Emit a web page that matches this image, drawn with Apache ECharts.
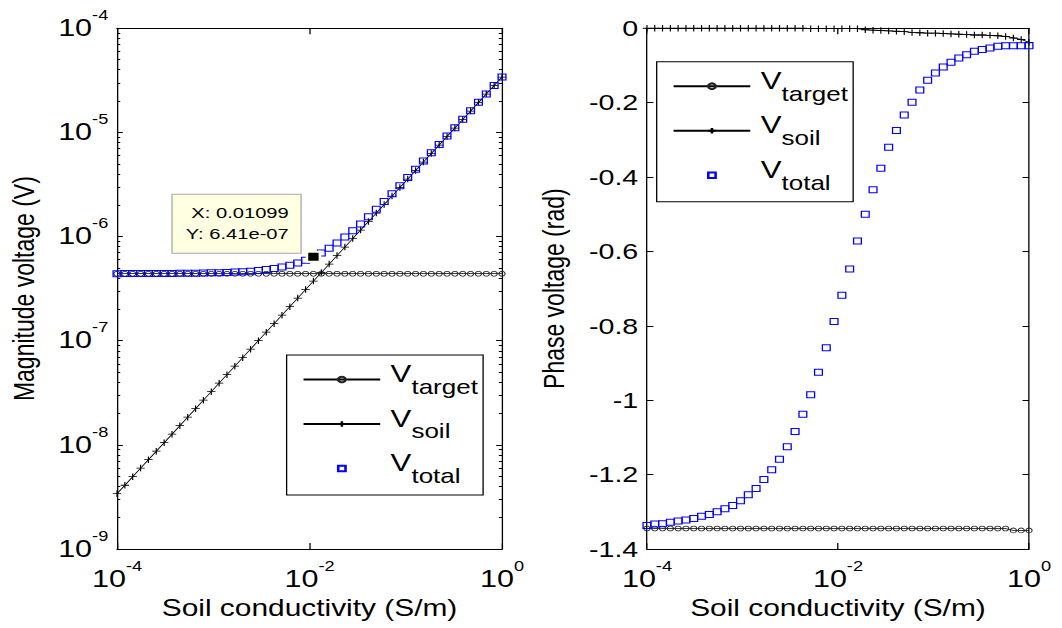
<!DOCTYPE html>
<html>
<head>
<meta charset="utf-8">
<script src="https://cdn.jsdelivr.net/npm/echarts@6/dist/echarts.min.js"></script>
<style>
  html, body { margin: 0; padding: 0; background: #fff; overflow: hidden; }
  #stage { width: 1062px; height: 628px; overflow: hidden; position: relative; }
  /* the figure is laid out on a narrower canvas and widened horizontally */
  #chart { width: 817px; height: 628px; transform: scaleX(1.29988); transform-origin: 0 0; }
</style>
</head>
<body>
<div id="stage"><div id="chart"></div></div>
<script>
// Soil conductivity sweep (S/m), 50 log-spaced samples
const sigma = [1.000e-4, 1.207e-4, 1.456e-4, 1.758e-4, 2.121e-4, 2.560e-4, 3.089e-4, 3.728e-4, 4.498e-4, 5.429e-4,
  6.551e-4, 7.906e-4, 9.541e-4, 1.151e-3, 1.389e-3, 1.677e-3, 2.024e-3, 2.442e-3, 2.947e-3, 3.556e-3,
  4.292e-3, 5.179e-3, 6.251e-3, 7.543e-3, 9.103e-3, 1.09854e-2, 1.326e-2, 1.600e-2, 1.931e-2, 2.330e-2,
  2.812e-2, 3.393e-2, 4.095e-2, 4.942e-2, 5.964e-2, 7.197e-2, 8.685e-2, 0.1048, 0.1265, 0.1526,
  0.1842, 0.2223, 0.2683, 0.3237, 0.3907, 0.4715, 0.5690, 0.6866, 0.8286, 1.0];

// Magnitude (V)
const magTarget = [4.4e-7, 4.4e-7, 4.4e-7, 4.4e-7, 4.4e-7, 4.4e-7, 4.4e-7, 4.4e-7, 4.4e-7, 4.4e-7,
  4.4e-7, 4.4e-7, 4.4e-7, 4.4e-7, 4.4e-7, 4.4e-7, 4.4e-7, 4.4e-7, 4.4e-7, 4.4e-7,
  4.4e-7, 4.4e-7, 4.4e-7, 4.4e-7, 4.4e-7, 4.4e-7, 4.4e-7, 4.4e-7, 4.4e-7, 4.4e-7,
  4.4e-7, 4.4e-7, 4.4e-7, 4.4e-7, 4.4e-7, 4.4e-7, 4.4e-7, 4.4e-7, 4.4e-7, 4.4e-7,
  4.4e-7, 4.4e-7, 4.4e-7, 4.4e-7, 4.4e-7, 4.4e-7, 4.4e-7, 4.4e-7, 4.4e-7, 4.4e-7];
const magSoil = [3.40e-9, 4.10e-9, 4.95e-9, 5.98e-9, 7.21e-9, 8.70e-9, 1.050e-8, 1.267e-8, 1.529e-8, 1.846e-8,
  2.227e-8, 2.688e-8, 3.244e-8, 3.915e-8, 4.724e-8, 5.701e-8, 6.880e-8, 8.303e-8, 1.002e-7, 1.209e-7,
  1.459e-7, 1.761e-7, 2.125e-7, 2.565e-7, 3.095e-7, 3.735e-7, 4.507e-7, 5.440e-7, 6.564e-7, 7.922e-7,
  9.560e-7, 1.154e-6, 1.392e-6, 1.680e-6, 2.028e-6, 2.447e-6, 2.953e-6, 3.563e-6, 4.301e-6, 5.188e-6,
  6.263e-6, 7.558e-6, 9.122e-6, 1.101e-5, 1.328e-5, 1.603e-5, 1.935e-5, 2.334e-5, 2.817e-5, 3.400e-5];
const magTotal = [4.408e-7, 4.409e-7, 4.411e-7, 4.414e-7, 4.417e-7, 4.420e-7, 4.425e-7, 4.430e-7, 4.437e-7, 4.445e-7,
  4.455e-7, 4.468e-7, 4.484e-7, 4.504e-7, 4.529e-7, 4.562e-7, 4.603e-7, 4.657e-7, 4.726e-7, 4.817e-7,
  4.936e-7, 5.092e-7, 5.298e-7, 5.567e-7, 5.919e-7, 6.41e-7, 6.968e-7, 7.725e-7, 8.682e-7, 9.886e-7,
  1.138e-6, 1.324e-6, 1.551e-6, 1.830e-6, 2.169e-6, 2.581e-6, 3.082e-6, 3.687e-6, 4.420e-6, 5.304e-6,
  6.376e-6, 7.669e-6, 9.231e-6, 1.112e-5, 1.339e-5, 1.613e-5, 1.945e-5, 2.344e-5, 2.827e-5, 3.410e-5];

// Phase (rad)
const phaseTarget = [-1.345, -1.345, -1.345, -1.345, -1.345, -1.345, -1.345, -1.345, -1.345, -1.345,
  -1.345, -1.345, -1.345, -1.345, -1.345, -1.345, -1.345, -1.345, -1.345, -1.345,
  -1.345, -1.345, -1.345, -1.345, -1.345, -1.345, -1.345, -1.345, -1.345, -1.345,
  -1.345, -1.345, -1.345, -1.345, -1.345, -1.345, -1.345, -1.345, -1.345, -1.345,
  -1.345, -1.345, -1.345, -1.345, -1.345, -1.345, -1.345, -1.350, -1.350, -1.350];
const phaseSoil = [0, 0, 0, 0, 0, 0, 0, 0, 0, 0,
  0, 0, 0, 0, 0, 0, 0, 0, 0, 0,
  0, -0.001, -0.001, -0.001, -0.001, -0.001, -0.001, -0.001, -0.004, -0.005,
  -0.006, -0.007, -0.008, -0.009, -0.011, -0.012, -0.013, -0.013, -0.014, -0.015,
  -0.016, -0.017, -0.018, -0.018, -0.019, -0.020, -0.022, -0.026, -0.030, -0.038];
const phaseTotal = [-1.337, -1.333, -1.332, -1.328, -1.325, -1.322, -1.318, -1.312, -1.307, -1.300,
  -1.292, -1.283, -1.270, -1.254, -1.237, -1.213, -1.187, -1.159, -1.125, -1.084,
  -1.038, -0.985, -0.925, -0.859, -0.788, -0.718, -0.647, -0.572, -0.500, -0.434,
  -0.376, -0.320, -0.275, -0.233, -0.199, -0.166, -0.140, -0.120, -0.104, -0.091,
  -0.080, -0.071, -0.062, -0.057, -0.053, -0.048, -0.047, -0.047, -0.047, -0.047];

const seriesNames = ['target', 'soil', 'total'];
const xTicks = [1e-4, 1e-2, 1];
const magTicks = [1e-9, 1e-8, 1e-7, 1e-6, 1e-5, 1e-4];
const phaseTicks = [0, -0.2, -0.4, -0.6, -0.8, -1, -1.2, -1.4];
const tipIndex = 25;

const FONT = "'Liberation Sans', Arial, Helvetica, sans-serif";

const pairs = (xs, ys) => xs.map((x, i) => [x, ys[i]]);

// "10" with a raised exponent; extra bottom padding recentres the "10" on the tick
function powLabel(padBottom) {
  return {
    formatter: v => '{b|10}{e|' + Math.round(Math.log10(v)) + '}',
    padding: [0, 0, padBottom, 0],
    rich: {
      b: { fontSize: 23.5, lineHeight: 32, verticalAlign: 'bottom', fontFamily: FONT, color: '#000' },
      e: { fontSize: 14, lineHeight: 14, verticalAlign: 'top', fontFamily: FONT, color: '#000' }
    }
  };
}

const blackLine = { show: true, onZero: false, lineStyle: { color: '#000', width: 1 } };
const nameStyle = { fontSize: 23, color: '#000', fontFamily: FONT };

function xAxisFor(grid, pos, withLabels) {
  return {
    type: 'log', logBase: 10, gridIndex: grid, position: pos,
    min: xTicks[0], max: xTicks[xTicks.length - 1],
    axisLine: blackLine,
    axisTick: { show: true, inside: true, length: 6, customValues: xTicks, lineStyle: { color: '#000', width: 1 } },
    axisLabel: withLabels ? Object.assign({ show: true, margin: 10.3, customValues: xTicks }, powLabel(0)) : { show: false },
    splitLine: { show: false },
    minorTick: { show: false },
    name: withLabels ? 'Soil conductivity (S/m)' : '',
    nameLocation: 'middle', nameGap: 48, nameTextStyle: nameStyle
  };
}

function magYAxis(pos, withLabels) {
  return {
    type: 'log', logBase: 10, gridIndex: 0, position: pos,
    min: magTicks[0], max: magTicks[magTicks.length - 1],
    axisLine: blackLine,
    axisTick: { show: true, inside: true, length: 4.5, customValues: magTicks, lineStyle: { color: '#000', width: 1 } },
    minorTick: { show: true, splitNumber: 9, length: 2.5, lineStyle: { color: '#000', width: 1 } },
    axisLabel: withLabels ? Object.assign({ show: true, margin: 6.7, customValues: magTicks }, powLabel(9)) : { show: false },
    splitLine: { show: false }, minorSplitLine: { show: false },
    name: withLabels ? 'Magnitude voltage (V)' : '',
    nameLocation: 'middle', nameGap: 60,
    nameTextStyle: { fontSize: 23, color: '#000', fontFamily: FONT }
  };
}

function phaseYAxis(pos, withLabels) {
  return {
    type: 'value', gridIndex: 1, position: pos,
    min: phaseTicks[phaseTicks.length - 1], max: phaseTicks[0], interval: 0.2,
    axisLine: blackLine,
    axisTick: { show: true, inside: true, length: 5, lineStyle: { color: '#000', width: 1 } },
    axisLabel: withLabels ? { show: true, margin: 6.7, fontSize: 22, color: '#000', fontFamily: FONT } : { show: false },
    splitLine: { show: false },
    name: withLabels ? 'Phase voltage (rad)' : '',
    nameLocation: 'middle', nameGap: 60,
    nameTextStyle: { fontSize: 23, color: '#000', fontFamily: FONT }
  };
}

const clearFill = 'rgba(0,0,0,0)';
const plusPath = 'path://M0,5L10,5M5,0L5,10';

function trio(xi, yi, yTarget, ySoil, yTotal, extraTotal) {
  const common = { type: 'line', xAxisIndex: xi, yAxisIndex: yi, clip: false, showAllSymbol: true,
    silent: true, animation: false, emphasis: { disabled: true } };
  return [
    Object.assign({}, common, {
      name: seriesNames[0], data: pairs(sigma, yTarget),
      symbol: 'circle', symbolSize: 4.8,
      itemStyle: { color: clearFill, borderColor: '#222', borderWidth: 0.8 },
      lineStyle: { color: '#000', width: 0.8 }
    }),
    Object.assign({}, common, {
      name: seriesNames[1], data: pairs(sigma, ySoil),
      symbol: plusPath, symbolSize: 6.5,
      itemStyle: { color: clearFill, borderColor: '#000', borderWidth: 0.9 },
      lineStyle: { color: '#000', width: 0.8 }
    }),
    Object.assign({}, common, {
      name: seriesNames[2], data: pairs(sigma, yTotal),
      symbol: 'rect', symbolSize: 6,
      itemStyle: { color: clearFill, borderColor: '#0000ff', borderWidth: 1 },
      lineStyle: { color: clearFill, width: 0 }
    }, extraTotal || {})
  ];
}

function fmtSci(v) {
  const parts = v.toExponential(2).split('e');
  const sign = parts[1][0] === '-' ? '-' : '+';
  const digits = parts[1].replace(/^[+-]/, '').padStart(2, '0');
  return parts[0] + 'e' + sign + digits;
}

const dataTip = {
  markPoint: {
    symbol: 'rect', symbolSize: 10, silent: true, animation: false,
    itemStyle: { color: '#000', borderColor: '#ffffe1', borderWidth: 2 },
    label: {
      show: true, position: [-4, 2], align: 'right', verticalAlign: 'bottom',
      formatter: 'X: ' + sigma[tipIndex].toPrecision(4) + '\nY: ' + fmtSci(magTotal[tipIndex]),
      fontSize: 15.5, lineHeight: 21, color: '#000', fontFamily: FONT,
      backgroundColor: '#ffffe1', borderColor: '#a8a8a8', borderWidth: 1, padding: [8, 9, 8, 10]
    },
    data: [{ coord: [sigma[tipIndex], magTotal[tipIndex]] }]
  }
};

function legendAt(left, top) {
  return {
    data: seriesNames, orient: 'vertical', left: left, top: top,
    itemWidth: 59, itemHeight: 7, itemGap: 9.5,
    padding: [7, 4, 9, 12],
    backgroundColor: '#fff', borderColor: '#000', borderWidth: 1, borderRadius: 0,
    selectedMode: false,
    formatter: n => '{v|V}{s|' + n + '}',
    textStyle: {
      color: '#000', fontFamily: FONT,
      rich: {
        v: { fontSize: 24, lineHeight: 24, verticalAlign: 'top', fontFamily: FONT, color: '#000', padding: [0, 0, 0, 3] },
        s: { fontSize: 20, lineHeight: 35, verticalAlign: 'bottom', fontFamily: FONT, color: '#000' }
      }
    }
  };
}

const chart = echarts.init(document.getElementById('chart'), null, { renderer: 'svg', width: 817, height: 628 });
chart.setOption({
  animation: false,
  backgroundColor: '#fff',
  textStyle: { fontFamily: FONT },
  grid: [
    { left: 90, right: 430.8, top: 28.3, bottom: 79 },
    { left: 497.7, right: 25.4, top: 28.3, bottom: 79 }
  ],
  xAxis: [xAxisFor(0, 'bottom', true), xAxisFor(0, 'top', false), xAxisFor(1, 'bottom', true), xAxisFor(1, 'top', false)],
  yAxis: [magYAxis('left', true), magYAxis('right', false), phaseYAxis('left', true), phaseYAxis('right', false)],
  legend: [legendAt(220.5, 355), legendAt(505.2, 61.7)],
  series: [].concat(
    trio(0, 0, magTarget, magSoil, magTotal, dataTip),
    trio(2, 2, phaseTarget, phaseSoil, phaseTotal)
  )
});
</script>
</body>
</html>
